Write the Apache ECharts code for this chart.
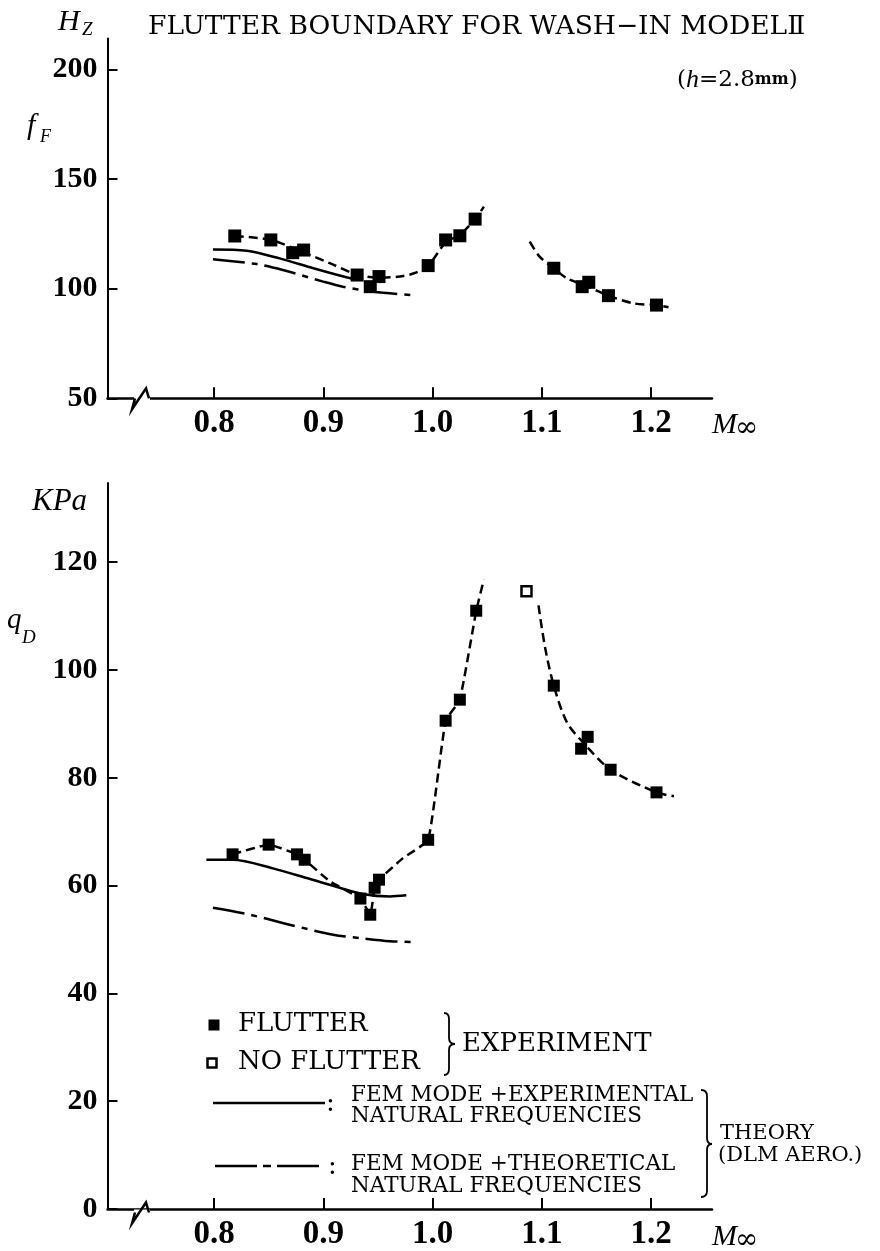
<!DOCTYPE html>
<html><head><meta charset="utf-8">
<script src="https://cdn.jsdelivr.net/npm/echarts@6/dist/echarts.min.js"></script>
<style>html,body{margin:0;padding:0;background:#fff}#c{width:880px;height:1251px}</style>
</head><body><div id="c"></div>
<script>
// ---- tick labels ----
const xTicks = [0.8, 0.9, 1.0, 1.1, 1.2];
const fTicks = [50, 100, 150, 200];
const qTicks = [0, 20, 40, 60, 80, 100, 120];

// ---- flutter frequency f_F (Hz) ----
const flutterF_M = [0.819, 0.852, 0.872, 0.882, 0.931, 0.943, 0.951, 0.996, 1.012, 1.025, 1.039, 1.111, 1.137, 1.143, 1.161, 1.205];
const flutterF_f = [124.0, 122.2, 116.4, 117.6, 106.2, 100.9, 105.5, 110.5, 122.2, 124.1, 131.7, 109.3, 100.9, 102.9, 96.8, 92.5];
// faired experiment curves (dashed)
const fairF1_M = [0.819, 0.852, 0.877, 0.906, 0.931, 0.952, 0.970, 0.983, 0.996, 1.012, 1.025, 1.039, 1.047];
const fairF1_f = [124.0, 122.2, 117.5, 111.6, 106.4, 105.0, 105.5, 107.0, 110.5, 121.0, 124.6, 131.7, 137.4];
const fairF2_M = [1.089, 1.098, 1.111, 1.123, 1.139, 1.161, 1.184, 1.205, 1.216];
const fairF2_f = [121.4, 114.6, 109.3, 104.7, 101.6, 96.8, 93.3, 92.5, 91.5];
// theory
const thExpF_M = [0.799, 0.830, 0.860, 0.891, 0.921, 0.933];
const thExpF_f = [117.9, 117.3, 113.8, 109.3, 105.2, 104.0];
const thThF_M = [0.799, 0.839, 0.863, 0.900, 0.918, 0.946, 0.981];
const thThF_f = [113.4, 111.2, 108.5, 103.2, 100.9, 98.6, 97.1];

// ---- flutter dynamic pressure q_D (kPa) ----
const flutterQ_M = [0.817, 0.850, 0.876, 0.883, 0.934, 0.943, 0.947, 0.951, 0.996, 1.012, 1.025, 1.040, 1.111, 1.136, 1.142, 1.163, 1.205];
const flutterQ_q = [65.8, 67.6, 65.8, 64.8, 57.6, 54.6, 59.6, 61.1, 68.5, 90.6, 94.5, 111.0, 97.1, 85.4, 87.6, 81.5, 77.3];
const noFlutterQ_M = [1.086];
const noFlutterQ_q = [114.6];
const fairQ1_M = [0.817, 0.850, 0.876, 0.883, 0.906, 0.934, 0.943, 0.947, 0.951, 0.973, 0.996, 1.012, 1.025, 1.040, 1.047];
const fairQ1_q = [65.8, 67.6, 65.8, 64.8, 60.8, 57.6, 54.6, 59.6, 61.1, 65.1, 68.5, 90.6, 94.5, 111.0, 116.8];
const fairQ2_M = [1.097, 1.103, 1.111, 1.123, 1.139, 1.163, 1.205, 1.221];
const fairQ2_q = [112.0, 104.2, 97.1, 90.3, 86.3, 81.5, 77.3, 76.6];
const thExpQ_M = [0.793, 0.817, 0.854, 0.885, 0.915, 0.937, 0.961, 0.976];
const thExpQ_q = [64.8, 64.8, 63.2, 61.4, 59.6, 58.4, 58.0, 58.2];
const thThQ_M = [0.799, 0.833, 0.870, 0.909, 0.937, 0.961, 0.984];
const thThQ_q = [55.9, 54.6, 52.7, 50.9, 50.2, 49.7, 49.5];

const pairs = (xs, ys) => xs.map((x, i) => [x, ys[i]]);
const K = '#000';
const SERIF = '"Liberation Serif", "DejaVu Serif", serif';
const DSERIF = '"DejaVu Serif", "Liberation Serif", "Noto Sans CJK JP", serif';

function xAxisCfg(gi) {
  return {
    type: 'value', gridIndex: gi, min: 0.7025, max: 1.2558,
    axisLine: { show: true, onZero: false, lineStyle: { color: K, width: 2.5 } },
    axisTick: { show: true, inside: true, length: 11, customValues: xTicks, lineStyle: { color: K, width: 2 } },
    axisLabel: { customValues: xTicks, formatter: v => v.toFixed(1), color: K, margin: 9,
      fontFamily: SERIF, fontWeight: 'bold', fontSize: 33 },
    splitLine: { show: false }
  };
}
function yAxisCfg(gi, min, max, ticks) {
  return {
    type: 'value', gridIndex: gi, min: min, max: max,
    axisLine: { show: true, onZero: false, lineStyle: { color: K, width: 2 } },
    axisTick: { show: true, inside: true, length: 10, customValues: ticks, lineStyle: { color: K, width: 2 } },
    axisLabel: { customValues: ticks, color: K, margin: 10, fontFamily: SERIF, fontWeight: 'bold', fontSize: 30 },
    splitLine: { show: false }
  };
}
function lineS(xi, xs, ys, type, smooth) {
  return { type: 'line', xAxisIndex: xi, yAxisIndex: xi, data: pairs(xs, ys), smooth: smooth,
    showSymbol: false, symbol: 'none', lineStyle: { color: K, width: 2.5, type: type }, z: 3 };
}
function txt(x, y, text, font, extra) {
  return Object.assign({ type: 'text', x: x, y: y, z: 100,
    style: { text: text, font: font, fill: K, textAlign: 'left', textVerticalAlign: 'middle', align: 'left', verticalAlign: 'middle' } }, extra || {});
}
function zig(y) {
  return [
    { type: 'rect', z: 100, shape: { x: 134, y: y - 3, width: 16, height: 6 }, style: { fill: '#fff' } },
    { type: 'polyline', z: 101, shape: { points: [[135, y], [132, y + 11], [146, y - 10], [149, y]] },
      style: { stroke: K, lineWidth: 2.5, fill: null } }
  ];
}
// right-pointing curly brace: x0 = outer ends, xv = vertical stroke, xt = tip
function brace(x0, xv, xt, y0, ym, y1) {
  const st = { stroke: K, lineWidth: 1.8, fill: null };
  const r = 6;
  return [
    { type: 'bezierCurve', z: 100, shape: { x1: x0, y1: y0, cpx1: xv, cpy1: y0, x2: xv, y2: y0 + r }, style: st },
    { type: 'line', z: 100, shape: { x1: xv, y1: y0 + r, x2: xv, y2: ym - r }, style: st },
    { type: 'bezierCurve', z: 100, shape: { x1: xv, y1: ym - r, cpx1: xv, cpy1: ym, x2: xt, y2: ym }, style: st },
    { type: 'bezierCurve', z: 100, shape: { x1: xt, y1: ym, cpx1: xv, cpy1: ym, x2: xv, y2: ym + r }, style: st },
    { type: 'line', z: 100, shape: { x1: xv, y1: ym + r, x2: xv, y2: y1 - r }, style: st },
    { type: 'bezierCurve', z: 100, shape: { x1: xv, y1: y1 - r, cpx1: xv, cpy1: y1, x2: x0, y2: y1 }, style: st }
  ];
}
const sq = (c) => ({ color: c, opacity: 1 });

const chart = echarts.init(document.getElementById('c'));
chart.setOption({
  animation: false,
  backgroundColor: '#fff',
  grid: [
    { left: 107.5, right: 168, top: 38.6, height: 359.7 },
    { left: 107.5, right: 168, top: 483, height: 729.5 }
  ],
  xAxis: [xAxisCfg(0), xAxisCfg(1)],
  yAxis: [yAxisCfg(0, 50, 214, fTicks), yAxisCfg(1, 0, 134.7, qTicks)],
  series: [
    lineS(0, fairF1_M, fairF1_f, [9, 5], 0.3),
    lineS(0, fairF2_M, fairF2_f, [9, 5], 0.3),
    lineS(0, thExpF_M, thExpF_f, 'solid', 0.3),
    lineS(0, thThF_M, thThF_f, [32, 7, 6, 7], 0.3),
    { type: 'scatter', xAxisIndex: 0, yAxisIndex: 0, data: pairs(flutterF_M, flutterF_f),
      symbol: 'rect', symbolSize: 13, itemStyle: sq(K), z: 5 },
    lineS(1, fairQ1_M, fairQ1_q, [9, 5], 0.12),
    lineS(1, fairQ2_M, fairQ2_q, [9, 5], 0.3),
    lineS(1, thExpQ_M, thExpQ_q, 'solid', 0.3),
    lineS(1, thThQ_M, thThQ_q, [32, 7, 6, 7], 0.3),
    { type: 'scatter', xAxisIndex: 1, yAxisIndex: 1, data: pairs(flutterQ_M, flutterQ_q),
      symbol: 'rect', symbolSize: 12, itemStyle: sq(K), z: 5 },
    { type: 'scatter', xAxisIndex: 1, yAxisIndex: 1, data: pairs(noFlutterQ_M, noFlutterQ_q),
      symbol: 'rect', symbolSize: 10, itemStyle: { color: '#fff', opacity: 1, borderColor: K, borderWidth: 2.5 }, z: 5 }
  ],
  graphic: { elements: [
    txt(148, 27, 'FLUTTER BOUNDARY FOR WASH\u2212IN MODEL\u2161', '26.5px ' + DSERIF),
    { type: 'text', x: 677, y: 80, z: 100, style: {
      text: '{p|(}{h|h}{p|=2.8}{m|mm}{p|)}', fill: K, textVerticalAlign: 'middle', verticalAlign: 'middle',
      rich: {
        p: { fontFamily: DSERIF, fontSize: 23, fill: K },
        h: { fontFamily: SERIF, fontStyle: 'italic', fontSize: 26, fill: K },
        m: { fontFamily: DSERIF, fontWeight: 'bold', fontSize: 16, fill: K }
      } } },
    txt(58, 22, 'H', 'italic 30px ' + SERIF),
    txt(82, 30, 'Z', 'italic 19px ' + SERIF),
    txt(27, 126, 'f', 'italic 30px ' + SERIF),
    txt(40, 137, 'F', 'italic 18px ' + SERIF),
    txt(32, 502, 'KPa', 'italic 31px ' + SERIF),
    txt(7, 620, 'q', 'italic 29px ' + SERIF),
    txt(22, 638, 'D', 'italic 19px ' + SERIF),
    txt(712, 425, 'M', 'italic 30px ' + SERIF),
    txt(735, 429, '\u221E', '28px ' + DSERIF),
    txt(712, 1237, 'M', 'italic 30px ' + SERIF),
    txt(735, 1241, '\u221E', '28px ' + DSERIF),
    ...zig(398.3),
    ...zig(1212.5),
    // legend
    { type: 'rect', z: 100, shape: { x: 208.5, y: 1019.5, width: 11, height: 11 }, style: { fill: K } },
    txt(238, 1024, 'FLUTTER', '26px ' + DSERIF),
    { type: 'rect', z: 100, shape: { x: 207.5, y: 1058.5, width: 9, height: 9 }, style: { fill: '#fff', stroke: K, lineWidth: 2.5 } },
    txt(238, 1062, 'NO FLUTTER', '26px ' + DSERIF),
    ...brace(444, 449, 455, 1013, 1044, 1075),
    txt(462, 1044, 'EXPERIMENT', '26px ' + DSERIF),
    { type: 'line', z: 100, shape: { x1: 213, y1: 1103, x2: 325, y2: 1103 }, style: { stroke: K, lineWidth: 2.5 } },
    txt(326, 1104, ':', '26px ' + DSERIF),
    txt(351, 1095, 'FEM MODE +EXPERIMENTAL', '21.5px ' + DSERIF),
    txt(351, 1116, 'NATURAL FREQUENCIES', '21.5px ' + DSERIF),
    { type: 'line', z: 100, shape: { x1: 215, y1: 1166, x2: 324, y2: 1166 }, style: { stroke: K, lineWidth: 2.5, lineDash: [42, 6, 8, 6] } },
    txt(328, 1167, ':', '26px ' + DSERIF),
    txt(351, 1164, 'FEM MODE +THEORETICAL', '21.5px ' + DSERIF),
    txt(351, 1186, 'NATURAL FREQUENCIES', '21.5px ' + DSERIF),
    ...brace(701, 707, 712, 1090, 1144, 1197),
    txt(720, 1134, 'THEORY', '21px ' + DSERIF),
    txt(718, 1156, '(DLM AERO.)', '21px ' + DSERIF)
  ] }
});
</script></body></html>
